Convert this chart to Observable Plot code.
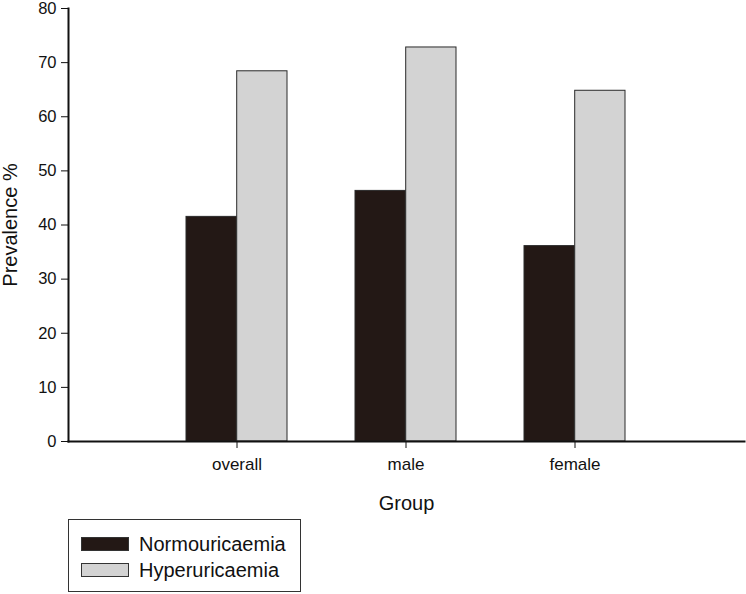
<!DOCTYPE html>
<html>
<head>
<meta charset="utf-8">
<script src="https://cdn.jsdelivr.net/npm/d3@7"></script>
<script src="https://cdn.jsdelivr.net/npm/@observablehq/plot@0.6"></script>
<style>
  body { margin: 0; background: #fff; font-family: "Liberation Sans", Arial, sans-serif; }
  #legend { margin-left: 68px; margin-top: 3px; width: 231px; height: 71px; border: 1px solid #333; box-sizing: content-box; position: relative; }
  .item { position: absolute; left: 12px; display: flex; align-items: center; font-size: 20px; color: #111; line-height: 1; }
  .sw { width: 46px; height: 12px; border: 1px solid #333; margin-right: 10px; }
</style>
</head>
<body>
<div id="chart"></div>
<div id="legend"></div>
<script>
const groups = ["overall", "male", "female"];
const series = ["Normouricaemia", "Hyperuricaemia"];
const normoValues = [41.5, 46.3, 36.1];
const hyperValues = [68.4, 72.8, 64.8];
const colors = ["#231815", "#d3d3d3"];
const yTicks = [0, 10, 20, 30, 40, 50, 60, 70, 80];

const normoData = groups.map((g, i) => ({group: g, series: series[0], value: normoValues[i]}));
const hyperData = groups.map((g, i) => ({group: g, series: series[1], value: hyperValues[i]}));

const W = 746, ML = 68, MR = 2;
const pIn = 0.4, pOut = 0.7;
const step = (W - ML - MR) / (groups.length - pIn + 2 * pOut);
const half = step * (1 - pIn) / 2;

const font = "'Liberation Sans', Arial, sans-serif";

const chart = Plot.plot({
  width: W,
  height: 516,
  marginLeft: ML,
  marginRight: MR,
  marginTop: 8,
  marginBottom: 75,
  style: {fontFamily: font, color: "#111", background: "#fff"},
  x: {domain: groups, paddingInner: pIn, paddingOuter: pOut},
  y: {domain: [0, 80]},
  color: {domain: series, range: colors},
  marks: [
    Plot.barY(normoData, {x: "group", y: "value", fill: "series", stroke: "#2a2a2a", strokeWidth: 1, insetRight: half}),
    Plot.barY(hyperData, {x: "group", y: "value", fill: "series", stroke: "#2a2a2a", strokeWidth: 1, insetLeft: half}),
    Plot.axisY({ticks: yTicks, tickSize: 7, tickPadding: 5, fontSize: 16.5, label: "Prevalence %", labelAnchor: "center", labelOffset: 66, labelArrow: "none"}),
    Plot.axisX({tickSize: 7, tickPadding: 9, fontSize: 17, label: "Group", labelAnchor: "center", labelOffset: 68, labelArrow: "none"}),
    Plot.frame({anchor: "left", stroke: "#111", strokeWidth: 2}),
    Plot.frame({anchor: "bottom", stroke: "#111", strokeWidth: 2})
  ]
});
chart.querySelectorAll("g[aria-label='y-axis label'] text, g[aria-label='x-axis label'] text").forEach(t => t.style.fontSize = "20px");
document.getElementById("chart").appendChild(chart);

const legend = document.getElementById("legend");
series.forEach((s, i) => {
  const item = document.createElement("div");
  item.className = "item";
  item.style.top = (i === 0 ? 14 : 40) + "px";
  const sw = document.createElement("div");
  sw.className = "sw";
  sw.style.background = colors[i];
  const label = document.createElement("span");
  label.textContent = s;
  item.appendChild(sw);
  item.appendChild(label);
  legend.appendChild(item);
});
</script>
</body>
</html>
